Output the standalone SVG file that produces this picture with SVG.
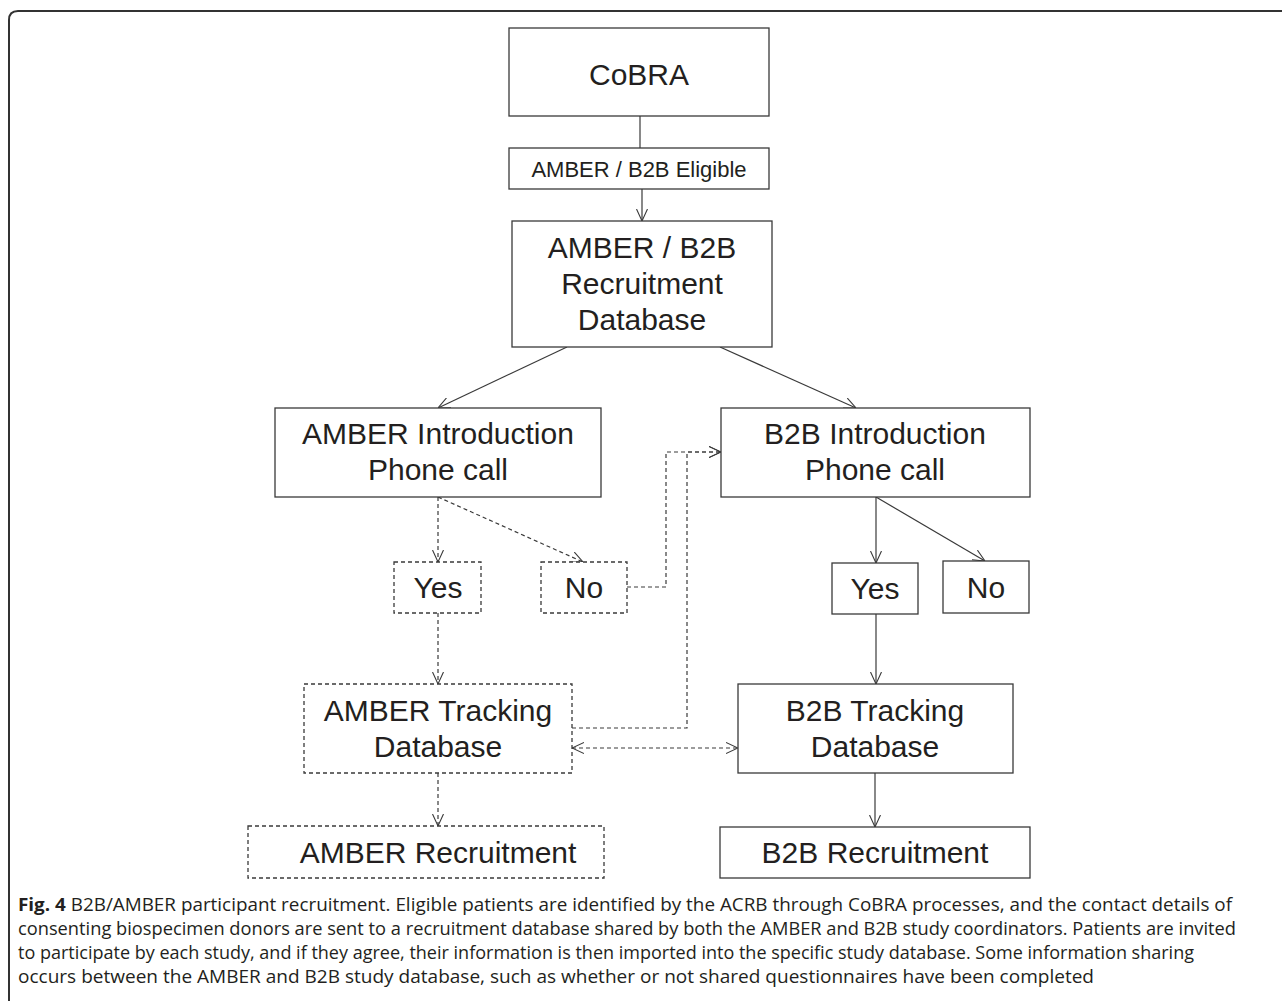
<svg xmlns="http://www.w3.org/2000/svg" width="1282" height="1001" viewBox="0 0 1282 1001">
<style>
.box{fill:#fff;stroke:#3a3a3a;stroke-width:1.3}
.dbox{fill:#fff;stroke:#3a3a3a;stroke-width:1.3;stroke-dasharray:4 3}
.t{font-family:"Liberation Sans",Arial,sans-serif;font-size:30px;fill:#231f20;text-anchor:middle}
.ts{font-family:"Liberation Sans",Arial,sans-serif;font-size:22px;fill:#231f20;text-anchor:middle}
.e{fill:none;stroke:#3a3a3a;stroke-width:1.2}
.de{fill:none;stroke:#3a3a3a;stroke-width:1.2;stroke-dasharray:4 3}
.cap{font-family:"Open Sans","Noto Sans",sans-serif;font-size:18px;fill:#231f20}
</style>
<defs>
<marker id="ah" viewBox="0 0 12 12" refX="12" refY="6" markerWidth="12" markerHeight="12" markerUnits="userSpaceOnUse" orient="auto-start-reverse">
<path d="M0,0.5 L12,6 L0,11.5" fill="none" stroke="#3a3a3a" stroke-width="1.1"/>
</marker>
</defs>
<rect width="1282" height="1001" fill="#fff"/>
<path d="M9,1003 V20 Q9,11 18,11 H1290" fill="none" stroke="#333" stroke-width="2"/>

<g id="connectors">
<line class="e" x1="640" y1="116" x2="640" y2="148"/>
<line class="e" x1="642" y1="189" x2="642" y2="221" marker-end="url(#ah)"/>
<line class="e" x1="567" y1="347" x2="438" y2="408" marker-end="url(#ah)"/>
<line class="e" x1="720" y1="347" x2="856" y2="408" marker-end="url(#ah)"/>
<line class="de" x1="438" y1="497" x2="438" y2="562" marker-end="url(#ah)"/>
<line class="de" x1="438" y1="497" x2="583" y2="562" marker-end="url(#ah)"/>
<polyline class="de" points="627,587 666,587 666,452 721,452" marker-end="url(#ah)"/>
<polyline class="de" points="572,728 687,728 687,452 721,452" marker-end="url(#ah)"/>
<line class="de" x1="438" y1="613" x2="438" y2="684" marker-end="url(#ah)"/>
<line class="de" x1="572" y1="748" x2="738" y2="748" marker-start="url(#ah)" marker-end="url(#ah)"/>
<line class="de" x1="438" y1="773" x2="438" y2="826" marker-end="url(#ah)"/>
<line class="e" x1="876" y1="497" x2="876" y2="563" marker-end="url(#ah)"/>
<line class="e" x1="876" y1="497" x2="985" y2="561" marker-end="url(#ah)"/>
<line class="e" x1="876" y1="614" x2="876" y2="684" marker-end="url(#ah)"/>
<line class="e" x1="875" y1="773" x2="875" y2="827" marker-end="url(#ah)"/>
</g>

<g id="cobra"><rect class="box" x="509" y="28" width="260" height="88"/><text class="t" x="639" y="85">CoBRA</text></g>
<g id="eligible"><rect class="box" x="509" y="148" width="260" height="41"/><text class="ts" x="639" y="177">AMBER / B2B Eligible</text></g>
<g id="recruitdb"><rect class="box" x="512" y="221" width="260" height="126"/><text class="t" x="642" y="258">AMBER / B2B</text><text class="t" x="642" y="294">Recruitment</text><text class="t" x="642" y="330">Database</text></g>
<g id="amberintro"><rect class="box" x="275" y="408" width="326" height="89"/><text class="t" x="438" y="444">AMBER Introduction</text><text class="t" x="438" y="480">Phone call</text></g>
<g id="b2bintro"><rect class="box" x="721" y="408" width="309" height="89"/><text class="t" x="875" y="444">B2B Introduction</text><text class="t" x="875" y="480">Phone call</text></g>
<g id="amberyes"><rect class="dbox" x="394" y="562" width="87" height="51"/><text class="t" x="438" y="598">Yes</text></g>
<g id="amberno"><rect class="dbox" x="541" y="562" width="86" height="51"/><text class="t" x="584" y="598">No</text></g>
<g id="b2byes"><rect class="box" x="832" y="563" width="86" height="51"/><text class="t" x="875" y="599">Yes</text></g>
<g id="b2bno"><rect class="box" x="943" y="561" width="86" height="52"/><text class="t" x="986" y="598">No</text></g>
<g id="ambertracking"><rect class="dbox" x="304" y="684" width="268" height="89"/><text class="t" x="438" y="721">AMBER Tracking</text><text class="t" x="438" y="757">Database</text></g>
<g id="b2btracking"><rect class="box" x="738" y="684" width="275" height="89"/><text class="t" x="875" y="721">B2B Tracking</text><text class="t" x="875" y="757">Database</text></g>
<g id="amberrecruit"><rect class="dbox" x="248" y="826" width="356" height="52"/><text class="t" x="438" y="863">AMBER Recruitment</text></g>
<g id="b2brecruit"><rect class="box" x="720" y="827" width="310" height="51"/><text class="t" x="875" y="863">B2B Recruitment</text></g>

<g id="caption">
<text class="cap" x="18" y="911" textLength="1214" lengthAdjust="spacingAndGlyphs"><tspan font-weight="bold">Fig. 4</tspan> B2B/AMBER participant recruitment. Eligible patients are identified by the ACRB through CoBRA processes, and the contact details of</text>
<text class="cap" x="18" y="935" textLength="1218" lengthAdjust="spacingAndGlyphs">consenting biospecimen donors are sent to a recruitment database shared by both the AMBER and B2B study coordinators. Patients are invited</text>
<text class="cap" x="18" y="959" textLength="1176" lengthAdjust="spacingAndGlyphs">to participate by each study, and if they agree, their information is then imported into the specific study database. Some information sharing</text>
<text class="cap" x="18" y="983" textLength="1076" lengthAdjust="spacingAndGlyphs">occurs between the AMBER and B2B study database, such as whether or not shared questionnaires have been completed</text>
</g>
</svg>
